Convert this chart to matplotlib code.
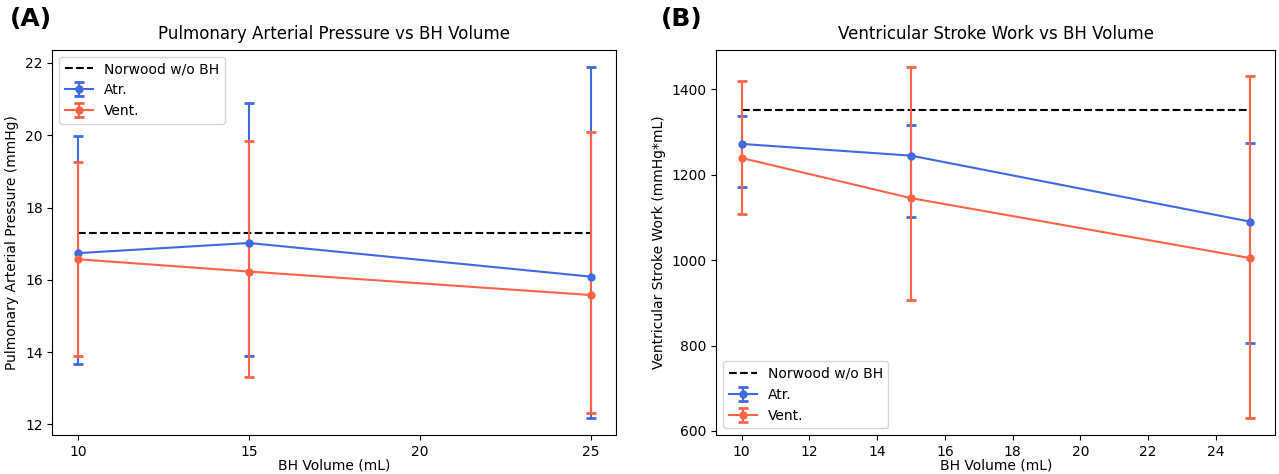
import numpy as np
import matplotlib.pyplot as plt

# BH volumes (mL)
volumes = [10, 15, 25]

# Panel A: pulmonary arterial pressure (mmHg)
pap_atr = [16.74, 17.02, 16.09]
pap_atr_lo = [13.66, 13.90, 12.19]
pap_atr_hi = [19.99, 20.90, 21.88]
pap_vent = [16.57, 16.23, 15.58]
pap_vent_lo = [13.90, 13.31, 12.31]
pap_vent_hi = [19.26, 19.84, 20.09]
pap_norwood = 17.30

# Panel B: ventricular stroke work (mmHg*mL)
vsw_atr = [1271.6, 1244.2, 1090.0]
vsw_atr_lo = [1170.6, 1100.2, 806.7]
vsw_atr_hi = [1337.4, 1316.2, 1274.0]
vsw_vent = [1238.7, 1144.8, 1004.7]
vsw_vent_lo = [1107.2, 907.6, 631.3]
vsw_vent_hi = [1418.0, 1450.9, 1431.3]
vsw_norwood = 1350.0

c_atr = 'royalblue'
c_vent = 'tomato'
eb_kw = dict(fmt='-o', capsize=3.5, capthick=2, elinewidth=1.5, linewidth=1.5, markersize=5)


def yerr(mean, lo, hi):
    mean = np.array(mean)
    return [mean - np.array(lo), np.array(hi) - mean]


fig = plt.figure(figsize=(12.79, 4.74), dpi=100)
ax1 = fig.add_axes([0.041, 0.082, 0.441, 0.813])
ax2 = fig.add_axes([0.560, 0.082, 0.437, 0.813])

# (A)
ax1.hlines(pap_norwood, volumes[0], volumes[-1], colors='black', linestyles='--', label='Norwood w/o BH')
ax1.errorbar(volumes, pap_atr, yerr=yerr(pap_atr, pap_atr_lo, pap_atr_hi), color=c_atr, label='Atr.', **eb_kw)
ax1.errorbar(volumes, pap_vent, yerr=yerr(pap_vent, pap_vent_lo, pap_vent_hi), color=c_vent, label='Vent.', **eb_kw)
ax1.set_xticks([10, 15, 20, 25])
ax1.set_xlabel('BH Volume (mL)', labelpad=0)
ax1.set_ylabel('Pulmonary Arterial Pressure (mmHg)')
ax1.set_title('Pulmonary Arterial Pressure vs BH Volume', fontsize=12, pad=8)
ax1.legend(loc='upper left')

# (B)
ax2.hlines(vsw_norwood, volumes[0], volumes[-1], colors='black', linestyles='--', label='Norwood w/o BH')
ax2.errorbar(volumes, vsw_atr, yerr=yerr(vsw_atr, vsw_atr_lo, vsw_atr_hi), color=c_atr, label='Atr.', **eb_kw)
ax2.errorbar(volumes, vsw_vent, yerr=yerr(vsw_vent, vsw_vent_lo, vsw_vent_hi), color=c_vent, label='Vent.', **eb_kw)
ax2.set_xlabel('BH Volume (mL)', labelpad=0)
ax2.set_ylabel('Ventricular Stroke Work (mmHg*mL)')
ax2.set_title('Ventricular Stroke Work vs BH Volume', fontsize=12, pad=8)
ax2.legend(loc='lower left')

fig.text(0.008, 0.945, '(A)', fontsize=18, fontweight='bold')
fig.text(0.517, 0.945, '(B)', fontsize=18, fontweight='bold')

fig.savefig('out.png', dpi=100)
